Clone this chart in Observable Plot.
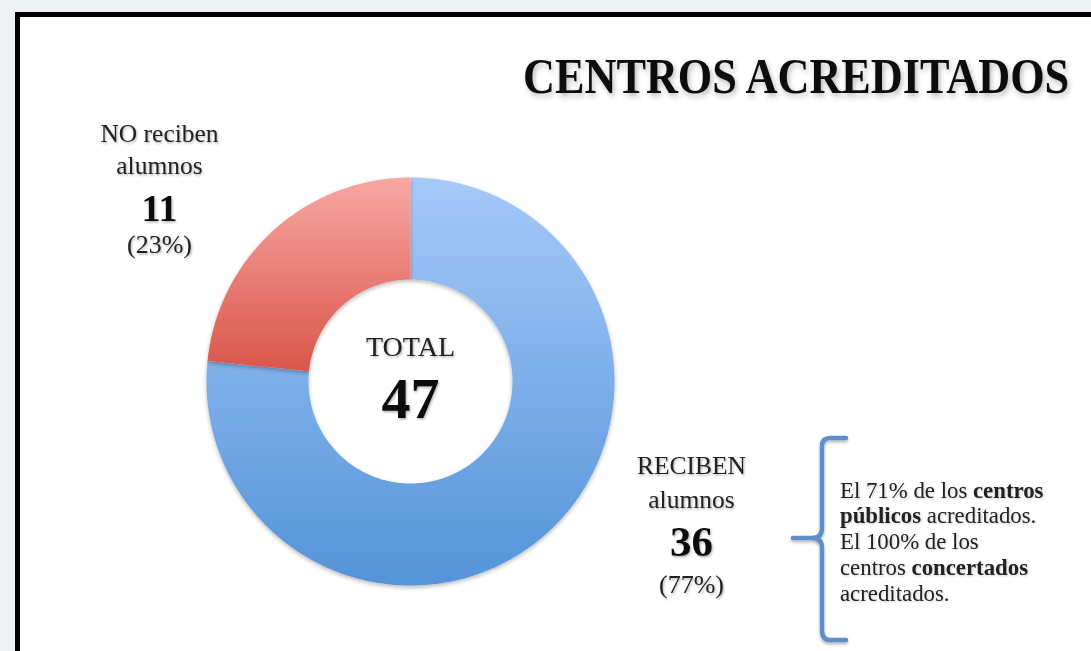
<!DOCTYPE html>
<html><head><meta charset="utf-8">
<script src="https://cdn.jsdelivr.net/npm/d3@7"></script>
<script src="https://cdn.jsdelivr.net/npm/@observablehq/plot@0.6"></script>
<style>
html,body{margin:0;padding:0;width:1091px;height:651px;overflow:hidden;background:#eef0f4;font-family:"Liberation Serif",serif;}
#frame{position:absolute;left:15px;top:12px;width:1120px;height:700px;border:5px solid #000;background:#fff;box-sizing:border-box;}
#chart{position:absolute;left:0;top:0;}
#overlay{position:absolute;left:0;top:0;}
</style>
</head><body>
<div id="frame"></div>
<div id="chart"></div>
<svg id="overlay" width="1091" height="651" xmlns="http://www.w3.org/2000/svg">
  <defs>
    <filter id="tshadow" x="-5%" y="-20%" width="110%" height="150%">
      <feDropShadow dx="2" dy="3" stdDeviation="3" flood-color="#000" flood-opacity="0.28"/>
    </filter>
    <filter id="bshadow" x="-50%" y="-5%" width="200%" height="110%">
      <feDropShadow dx="0" dy="2" stdDeviation="1.5" flood-color="#000" flood-opacity="0.3"/>
    </filter>
    <filter id="nshadow" x="-5%" y="-20%" width="110%" height="160%">
      <feDropShadow dx="1" dy="1" stdDeviation="1" flood-color="#000" flood-opacity="0.2"/>
    </filter>
  </defs>
  <text transform="translate(523,93) scale(0.885,1)" x="0" y="0" font-family="Liberation Serif" font-weight="bold" font-size="50" fill="#111" filter="url(#tshadow)">CENTROS ACREDITADOS</text>
  <path d="M846,438 L830,438 Q822,438 822,446 L822,528 Q822,538 812,538 L793,538 M812,538 Q822,538 822,548 L822,630 Q822,640 830,640 L846,640" fill="none" stroke="#5b8fcb" stroke-width="4.5" stroke-linecap="round" stroke-linejoin="round" filter="url(#bshadow)"/>
  <g font-family="Liberation Serif" font-size="22.8" fill="#222" filter="url(#nshadow)">
    <text x="840" y="498">El 71% de los <tspan font-weight="bold">centros</tspan></text>
    <text x="840" y="523"><tspan font-weight="bold">públicos</tspan> acreditados.</text>
    <text x="840" y="549">El 100% de los</text>
    <text x="840" y="575">centros <tspan font-weight="bold">concertados</tspan></text>
    <text x="840" y="601">acreditados.</text>
  </g>
</svg>
<script>
// ---- data ----
const categories = ["RECIBEN alumnos", "NO reciben alumnos"];
const values = [36, 11];
const centerLabel = "TOTAL";

// ---- layout (pixels) ----
const W = 1091, H = 651;
const CX = 410, CY = 381, R = 204, INNER = 0.5;
const labelX = {"RECIBEN alumnos": 691, "NO reciben alumnos": 159};
const labelBase = {
  "RECIBEN alumnos": [473, 507, 555, 592],
  "NO reciben alumnos": [141, 173, 220, 252]
};
const countSize = {"RECIBEN alumnos": 43, "NO reciben alumnos": 38};
const gradColors = [["#a6c9f9", "#5494d8"], ["#f8a7a3", "#d9564a"]];

const ux = px => (px - CX) / R;
const uy = py => (CY - py) / R;

const total = d3.sum(values);
let acc = 0;
const slices = categories.map((name, i) => {
  const a0 = acc / total * 2 * Math.PI;
  acc += values[i];
  const a1 = acc / total * 2 * Math.PI;
  return {name, value: values[i], pct: Math.round(values[i] / total * 100), a0, a1, i};
});

function ring(s) {
  const n = Math.max(2, Math.ceil((s.a1 - s.a0) / (Math.PI / 360)));
  const pts = [];
  for (let k = 0; k <= n; k++) {
    const a = s.a0 + (s.a1 - s.a0) * k / n;
    pts.push({x: Math.sin(a), y: Math.cos(a)});
  }
  for (let k = n; k >= 0; k--) {
    const a = s.a0 + (s.a1 - s.a0) * k / n;
    pts.push({x: INNER * Math.sin(a), y: INNER * Math.cos(a)});
  }
  return pts;
}

const defsMark = () => {
  const d = document.createElementNS("http://www.w3.org/2000/svg", "defs");
  d.innerHTML = gradColors.map((c, i) =>
    `<linearGradient id="grad${i}" x1="0" y1="0" x2="0" y2="1"><stop offset="0" stop-color="${c[0]}"/><stop offset="1" stop-color="${c[1]}"/></linearGradient>`
  ).join("") +
  `<filter id="dshadow" x="-10%" y="-10%" width="120%" height="120%"><feDropShadow dx="0" dy="2" stdDeviation="2" flood-color="#000" flood-opacity="0.28"/></filter>` +
  `<filter id="lshadow" x="-10%" y="-20%" width="120%" height="160%"><feDropShadow dx="1" dy="1.5" stdDeviation="1.2" flood-color="#000" flood-opacity="0.3"/></filter>`;
  return d;
};

const lineY = (s, k, fs) => uy(labelBase[s.name][k] - 0.32 * fs);
const textOpts = {fontFamily: "Liberation Serif", fill: "#222", stroke: null};

const chart = Plot.plot({
  width: W, height: H,
  margin: 0,
  x: {domain: [ux(0), ux(W)], range: [0, W], axis: null},
  y: {domain: [uy(H), uy(0)], range: [H, 0], axis: null},
  style: {background: "transparent", overflow: "visible"},
  marks: [
    defsMark,
    ...slices.map(s => Plot.line(ring(s), {x: "x", y: "y", fill: `url(#grad${s.i})`, stroke: "none", curve: "linear-closed"})),
    Plot.text([centerLabel], {...textOpts, x: 0, y: uy(355 - 0.32 * 28), text: d => d, fontSize: 28}),
    Plot.text([total], {...textOpts, x: 0, y: uy(417 - 0.32 * 58), text: d => String(d), fontSize: 58, fontWeight: "bold", fill: "#111"}),
    Plot.text(slices, {...textOpts, x: s => ux(labelX[s.name]), y: s => lineY(s, 0, 25.5), text: s => s.name.replace(/ alumnos$/, ""), fontSize: 25.5}),
    Plot.text(slices, {...textOpts, x: s => ux(labelX[s.name]), y: s => lineY(s, 1, 25.5), text: s => "alumnos", fontSize: 25.5}),
    ...slices.map(s => Plot.text([s], {...textOpts, x: ux(labelX[s.name]), y: lineY(s, 2, countSize[s.name]), text: d => String(d.value), fontSize: countSize[s.name], fontWeight: "bold", fill: "#111"})),
    Plot.text(slices, {...textOpts, x: s => ux(labelX[s.name]), y: s => lineY(s, 3, 26), text: s => `(${s.pct}%)`, fontSize: 26})
  ]
});
chart.querySelectorAll('g[aria-label="line"]').forEach(g => g.setAttribute("filter", "url(#dshadow)"));
chart.querySelectorAll('g[aria-label="text"]').forEach(g => g.setAttribute("filter", "url(#lshadow)"));
document.getElementById("chart").appendChild(chart);
</script>
</body></html>
